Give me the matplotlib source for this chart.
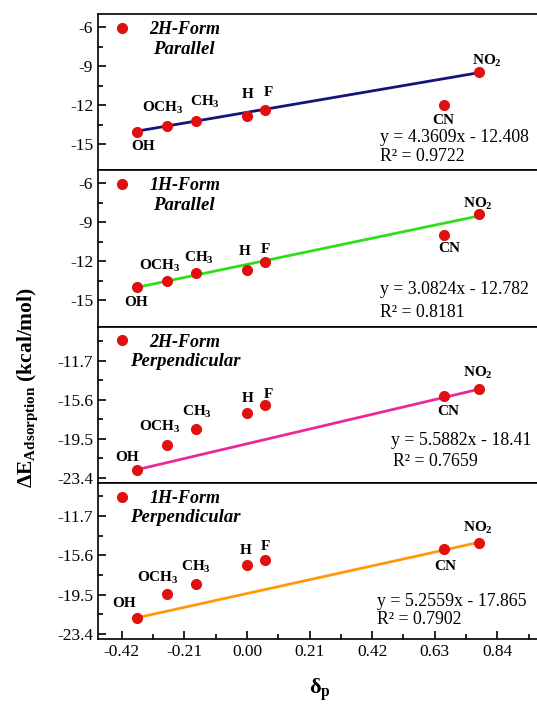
import matplotlib
matplotlib.use("Agg")
import matplotlib.pyplot as plt
from matplotlib.lines import Line2D
from matplotlib.ticker import FixedLocator

plt.rcParams["font.family"] = ["Liberation Serif", "DejaVu Serif"]
plt.rcParams["mathtext.fontset"] = "custom"
plt.rcParams["mathtext.rm"] = "Liberation Serif"
plt.rcParams["mathtext.bf"] = "Liberation Serif:bold"
plt.rcParams["mathtext.it"] = "Liberation Serif:italic"
plt.rcParams["mathtext.default"] = "bf"
plt.rcParams["axes.unicode_minus"] = False

# substituent Hammett constants and adsorption energies (kcal/mol)
sigma_p = [-0.37, -0.27, -0.17, 0.00, 0.06, 0.66, 0.78]
groups = ["OH", "OCH$_3$", "CH$_3$", "H", "F", "CN", "NO$_2$"]
e_2h_par = [-14.03, -13.57, -13.2, -12.85, -12.36, -12.0, -9.42]
e_1h_par = [-14.0, -13.49, -12.9, -12.64, -12.07, -9.95, -8.39]
e_2h_perp = [-22.67, -20.12, -18.5, -16.94, -16.18, -15.21, -14.55]
e_1h_perp = [-21.8, -19.44, -18.45, -16.52, -16.06, -14.98, -14.35]

# trend line ends (at OH and NO2)
trend_2h_par = [-14.0, -9.5]
trend_1h_par = [-14.0, -8.5]
trend_2h_perp = [-22.6, -14.55]
trend_1h_perp = [-21.8, -14.3]

forms = ["2H-Form", "1H-Form", "2H-Form", "1H-Form"]
orients = ["Parallel", "Parallel", "Perpendicular", "Perpendicular"]
equations = ["y = 4.3609x - 12.408", "y = 3.0824x - 12.782",
             "y = 5.5882x - 18.41", "y = 5.2559x - 17.865"]
r2 = ["R\u00b2 = 0.9722", "R\u00b2 = 0.8181", "R\u00b2 = 0.7659", "R\u00b2 = 0.7902"]

x_ticks = [-0.42, -0.21, 0.00, 0.21, 0.42, 0.63, 0.84]
y_ticks_par = [-15, -12, -9, -6]
y_ticks_perp = [-23.4, -19.5, -15.6, -11.7]

panels = [
    (e_2h_par, trend_2h_par, "#14147a", (-17, -5), y_ticks_par, 1.5,
     [(6, -15), (-4, 18), (9, 19), (1, 22), (4, 17), (0, -15), (7, 11)],
     (0.63, 0.21), (0.63, 0.09), 0.124),
    (e_1h_par, trend_1h_par, "#2ee01a", (-17, -5), y_ticks_par, 1.5,
     [(-1, -15), (-7, 15), (3, 15), (-2, 18), (1, 13), (6, -14), (-2, 10)],
     (0.63, 0.237), (0.63, 0.092), 0.124),
    (e_2h_perp, trend_2h_perp, "#ea2a96", (-23.9, -8.3), y_ticks_perp, 1.95,
     [(-10, 13), (-7, 18), (1, 17), (1, 15), (4, 11), (5, -16), (-2, 16)],
     (0.655, 0.268), (0.66, 0.137), 0.072),
    (e_1h_perp, trend_1h_perp, "#ff9a0a", (-23.9, -8.4), y_ticks_perp, 1.95,
     [(-13, 14), (-9, 16), (0, 17), (-1, 14), (1, 13), (2, -17), (-2, 15)],
     (0.625, 0.24), (0.625, 0.125), 0.072),
]

fig = plt.figure(figsize=(5.37, 7.04), dpi=100)
gs = fig.add_gridspec(4, 1, left=98 / 537, right=545 / 537,
                      top=1 - 14 / 704, bottom=1 - 639 / 704, hspace=0)
axes = [fig.add_subplot(gs[i]) for i in range(4)]

for i, (ax, p) in enumerate(zip(axes, panels)):
    energy, trend, col, ylim, yt, ymin, offs, eq_pos, r2_pos, orient_x = p
    ax.plot([sigma_p[0], sigma_p[-1]], trend, color=col, lw=2.0, zorder=2)
    ax.plot(sigma_p, energy, "o", color="#e01010", ms=7, zorder=3)
    for g, x, y, o in zip(groups, sigma_p, energy, offs):
        ax.annotate(g, (x, y), xytext=o, textcoords="offset pixels",
                    ha="center", va="center", fontsize=11, fontweight="bold")
    ax.text(*eq_pos, equations[i], transform=ax.transAxes, fontsize=12.8, va="center")
    ax.text(*r2_pos, r2[i], transform=ax.transAxes, fontsize=12.8, va="center")
    h = Line2D([], [], ls="none", marker="o", color="#e01010", ms=7)
    ax.legend([h], [forms[i]], loc="upper left", bbox_to_anchor=(0.0, 1.05),
              frameon=False, handlelength=1.0, handletextpad=1.0,
              borderaxespad=0.4, borderpad=0.43,
              prop={"weight": "bold", "style": "italic", "size": 13})
    ax.text(orient_x, 0.775, orients[i], transform=ax.transAxes, fontsize=13.5,
            fontweight="bold", fontstyle="italic", va="center")
    ax.set_xlim(-0.5, 1.0)
    ax.set_ylim(*ylim)
    ax.yaxis.set_major_locator(FixedLocator(yt))
    ax.yaxis.set_minor_locator(FixedLocator([v + ymin for v in yt]))
    ax.set_yticklabels([f"{v:g}" for v in yt])
    ax.xaxis.set_major_locator(FixedLocator(x_ticks))
    ax.xaxis.set_minor_locator(FixedLocator([v + 0.105 for v in x_ticks]))
    ax.tick_params(which="both", direction="in", labelsize=12.5, width=1.2)
    ax.tick_params(which="major", length=6)
    ax.tick_params(which="minor", length=3.5)
    for s in ax.spines.values():
        s.set_linewidth(1.2)
    if i < 3:
        ax.tick_params(axis="x", which="both", bottom=False, labelbottom=False)
    else:
        ax.set_xticklabels([f"{v:.2f}" for v in x_ticks])

fig.text(28 / 537, 1 - 388 / 704, "\u0394E$_{Adsorption}$ (kcal/mol)", rotation=90,
         ha="center", va="center", fontsize=15.5, fontweight="bold")
fig.text(320 / 537, 1 - 690 / 704, "\u03b4$_p$", ha="center", va="center",
         fontsize=16, fontweight="bold")

fig.savefig("out.png", dpi=100)
